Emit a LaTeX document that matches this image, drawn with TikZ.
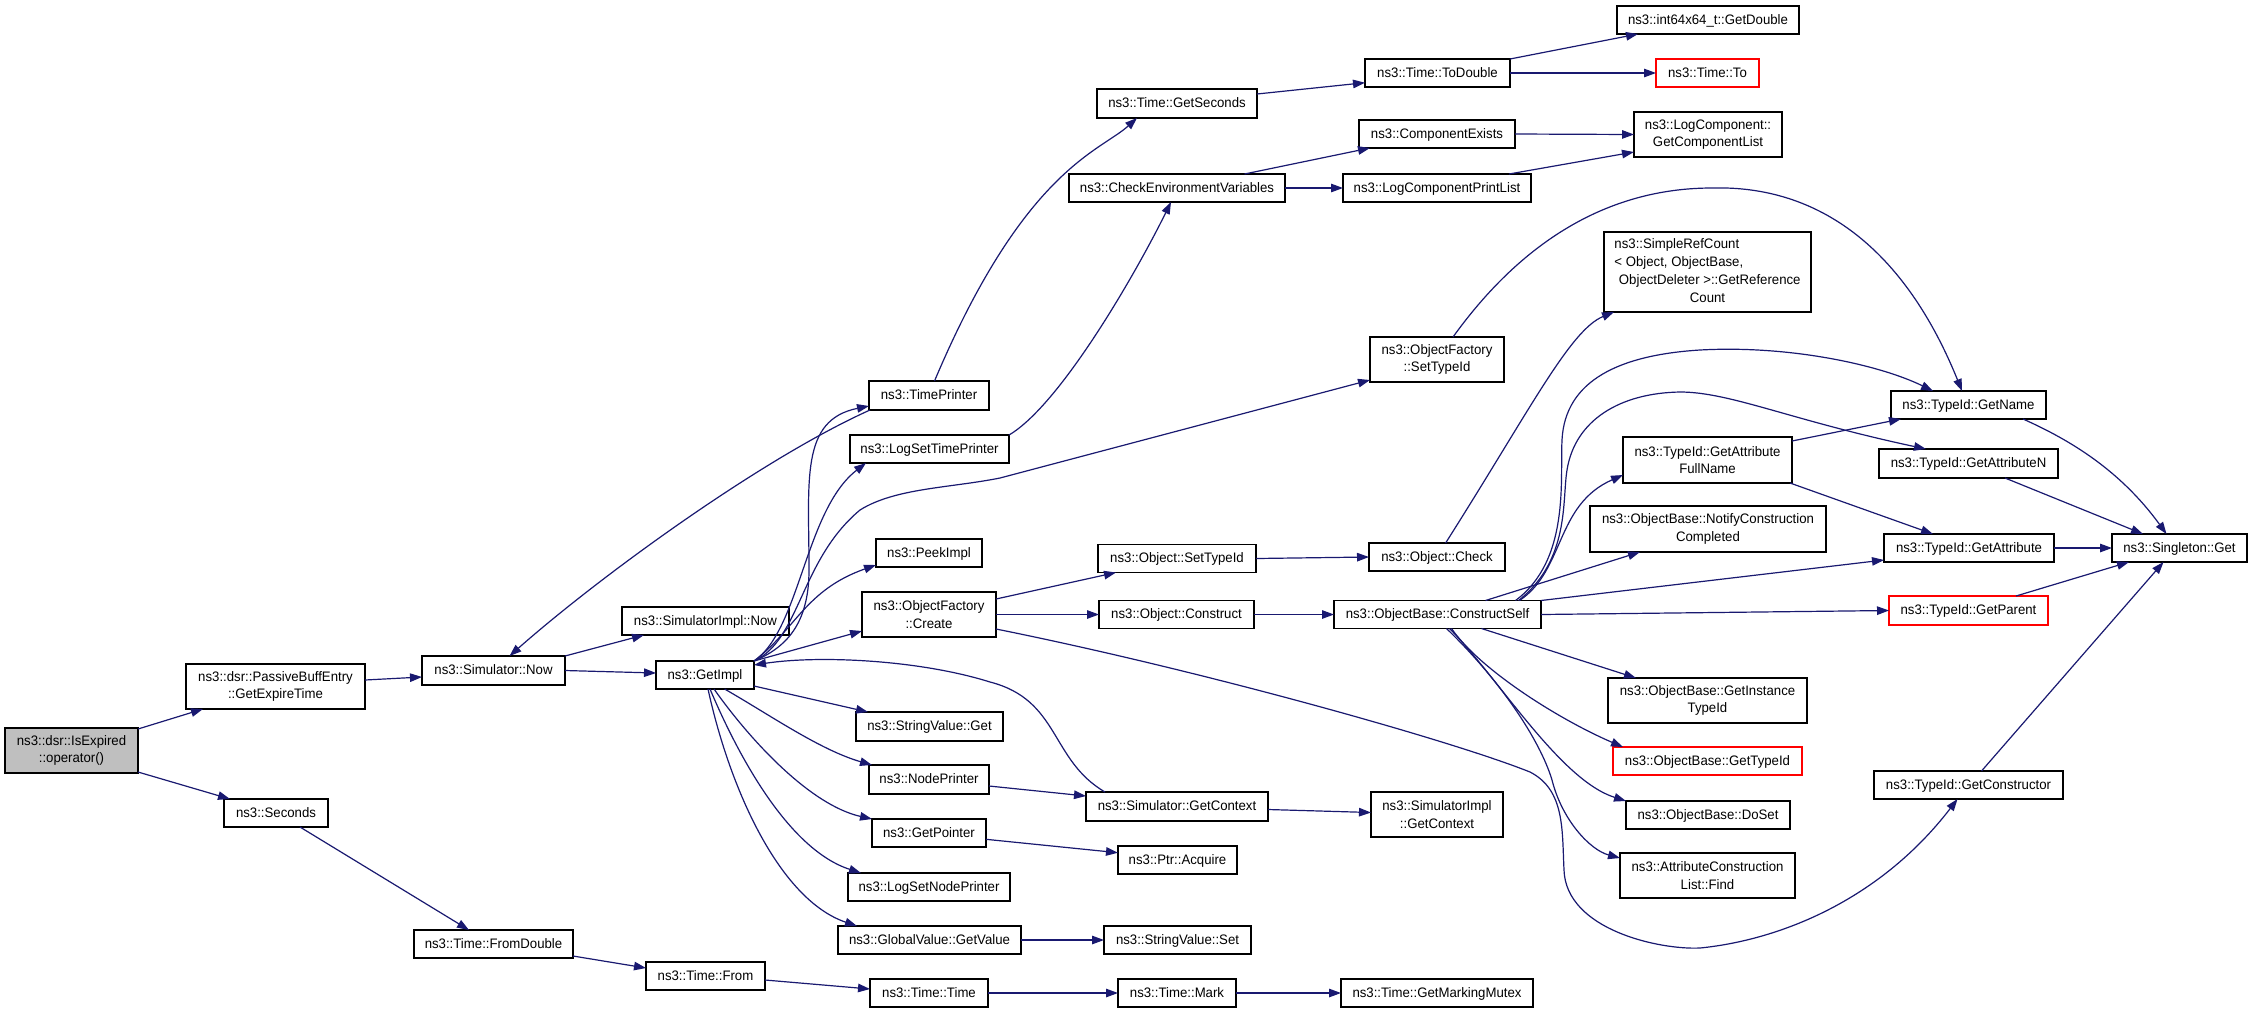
\documentclass[tikz,border=0pt]{standalone}
\usepackage{fontspec}
\setmainfont{Liberation Sans}[FakeStretch=0.96]
\usetikzlibrary{arrows.meta,calc}
\definecolor{edgec}{RGB}{25,25,112}
\definecolor{rootgray}{RGB}{191,191,191}
\newcommand\nfont{\fontsize{13.75}{17.7}\selectfont}
\begin{document}
\begin{tikzpicture}[x=1pt,y=-1pt,
  nb/.style={draw=black,line width=1.3pt,fill=white,inner sep=0pt,outer sep=0pt,font=\nfont,text height=10.8pt,text depth=2.4pt},
  nb2/.style={draw=black,line width=1.3pt,fill=white,inner sep=0pt,outer sep=0pt,font=\nfont,align=center},
  redb/.style={draw=red},
  rootb/.style={fill=rootgray},
  e/.style={draw=edgec,line width=1.2pt,-{Triangle[length=12pt,width=8.5pt]}}]
\useasboundingbox[fill=white] (0,0) rectangle (2253,1013);
% nodes
\node[nb2,rootb,minimum width=133pt,minimum height=45pt] (root) at (71.5,750.5) {ns3::dsr::IsExpired\\::operator()};
\node[nb2,minimum width=179pt,minimum height=45pt] (pbe) at (275.5,686.5) {ns3::dsr::PassiveBuffEntry\\::GetExpireTime};
\node[nb,minimum width=104pt,minimum height=28pt] (seconds) at (276,813) {ns3::Seconds};
\node[nb,minimum width=159pt,minimum height=28pt] (fromdouble) at (493.5,944) {ns3::Time::FromDouble};
\node[nb,minimum width=143pt,minimum height=29pt] (simnow) at (493.5,670.5) {ns3::Simulator::Now};
\node[nb,minimum width=98pt,minimum height=28pt] (getimpl) at (705,675) {ns3::GetImpl};
\node[nb,minimum width=167pt,minimum height=28pt] (simimplnow) at (705.5,621) {ns3::SimulatorImpl::Now};
\node[nb,minimum width=120pt,minimum height=29pt] (timeprinter) at (929,395.5) {ns3::TimePrinter};
\node[nb,minimum width=159pt,minimum height=28pt] (logsettp) at (929.5,449) {ns3::LogSetTimePrinter};
\node[nb,minimum width=106pt,minimum height=28pt] (peekimpl) at (929,553) {ns3::PeekImpl};
\node[nb2,minimum width=134pt,minimum height=45pt] (ofcreate) at (929,614.5) {ns3::ObjectFactory\\::Create};
\node[nb,minimum width=147pt,minimum height=29pt] (svget) at (929.5,726.5) {ns3::StringValue::Get};
\node[nb,minimum width=120pt,minimum height=29pt] (nodeprinter) at (929,779.5) {ns3::NodePrinter};
\node[nb,minimum width=114pt,minimum height=28pt] (getpointer) at (929,833) {ns3::GetPointer};
\node[nb,minimum width=162pt,minimum height=28pt] (logsetnp) at (929,887) {ns3::LogSetNodePrinter};
\node[nb,minimum width=183pt,minimum height=28pt] (gvgetvalue) at (929.5,940) {ns3::GlobalValue::GetValue};
\node[nb,minimum width=119pt,minimum height=28pt] (timefrom) at (705.5,976) {ns3::Time::From};
\node[nb,minimum width=118pt,minimum height=28pt] (timetime) at (929,993) {ns3::Time::Time};
\node[nb,minimum width=182pt,minimum height=29pt] (simgetctx) at (1177,806.5) {ns3::Simulator::GetContext};
\node[nb,minimum width=119pt,minimum height=28pt] (ptracquire) at (1177.5,860) {ns3::Ptr::Acquire};
\node[nb,minimum width=147pt,minimum height=28pt] (svset) at (1177.5,940) {ns3::StringValue::Set};
\node[nb,minimum width=118pt,minimum height=28pt] (timemark) at (1177,993) {ns3::Time::Mark};
\node[nb,minimum width=192pt,minimum height=28pt] (mutex) at (1437,993) {ns3::Time::GetMarkingMutex};
\node[nb2,minimum width=132pt,minimum height=45pt] (simimplgetctx) at (1437,814.5) {ns3::SimulatorImpl\\::GetContext};
\node[nb,minimum width=158pt,minimum height=28pt] (objsettypeid) at (1177,558.5) {ns3::Object::SetTypeId};
\node[nb,minimum width=155pt,minimum height=28pt] (objconstruct) at (1176.5,614.5) {ns3::Object::Construct};
\node[nb,minimum width=136pt,minimum height=28pt] (objcheck) at (1437,557) {ns3::Object::Check};
\node[nb,minimum width=207pt,minimum height=28pt] (constructself) at (1437.5,614.5) {ns3::ObjectBase::ConstructSelf};
\node[nb2,minimum width=134pt,minimum height=45pt] (ofsettypeid) at (1437,359.5) {ns3::ObjectFactory\\::SetTypeId};
\node[nb,minimum width=160pt,minimum height=29pt] (getseconds) at (1177,103.5) {ns3::Time::GetSeconds};
\node[nb,minimum width=216pt,minimum height=28pt] (checkenv) at (1177,188) {ns3::CheckEnvironmentVariables};
\node[nb,minimum width=145pt,minimum height=28pt] (todouble) at (1437.5,73) {ns3::Time::ToDouble};
\node[nb,minimum width=156pt,minimum height=28pt] (compexists) at (1437,134) {ns3::ComponentExists};
\node[nb,minimum width=188pt,minimum height=28pt] (logcompprint) at (1437,188) {ns3::LogComponentPrintList};
\node[nb,minimum width=182pt,minimum height=28pt] (getdouble) at (1708,20) {ns3::int64x64\_t::GetDouble};
\node[nb,redb,minimum width=103pt,minimum height=28pt] (timeto) at (1707.5,73) {ns3::Time::To};
\node[nb2,minimum width=148pt,minimum height=45pt] (getcomplist) at (1708,134.5) {ns3::LogComponent::\\GetComponentList};
\node[nb2,minimum width=207pt,minimum height=80pt] (simplerefcount) at (1707.5,272) {\begin{tabular}{@{}l@{}}ns3::SimpleRefCount\\< Object, ObjectBase,\\\hspace*{4.5pt}ObjectDeleter >::GetReference\\\multicolumn{1}{@{}c@{}}{Count}\end{tabular}};
\node[nb,minimum width=155pt,minimum height=28pt] (getname) at (1968.5,405) {ns3::TypeId::GetName};
\node[nb2,minimum width=169pt,minimum height=46pt] (getattrfullname) at (1707.5,460) {ns3::TypeId::GetAttribute\\FullName};
\node[nb,minimum width=179pt,minimum height=29pt] (getattrn) at (1968.5,463.5) {ns3::TypeId::GetAttributeN};
\node[nb2,minimum width=236pt,minimum height=46pt] (notify) at (1708,529) {ns3::ObjectBase::NotifyConstruction\\Completed};
\node[nb,minimum width=170pt,minimum height=28pt] (getattr) at (1969,548) {ns3::TypeId::GetAttribute};
\node[nb,minimum width=135pt,minimum height=28pt] (singleton) at (2179.5,548) {ns3::Singleton::Get};
\node[nb,redb,minimum width=159pt,minimum height=29pt] (getparent) at (1968.5,610.5) {ns3::TypeId::GetParent};
\node[nb2,minimum width=199pt,minimum height=45pt] (getinstance) at (1707.5,700.5) {ns3::ObjectBase::GetInstance\\TypeId};
\node[nb,redb,minimum width=189pt,minimum height=28pt] (obgettypeid) at (1707.5,761) {ns3::ObjectBase::GetTypeId};
\node[nb,minimum width=164pt,minimum height=28pt] (doset) at (1708,815) {ns3::ObjectBase::DoSet};
\node[nb2,minimum width=175pt,minimum height=45pt] (acfind) at (1707.5,875.5) {ns3::AttributeConstruction\\List::Find};
\node[nb,minimum width=189pt,minimum height=28pt] (getconstructor) at (1968.5,785) {ns3::TypeId::GetConstructor};
% edges
\draw[e] ($(root.north east)+(0,1)$) -- ($(pbe.south west)+(17,0)$);
\draw[e] ($(root.south east)+(0,-1)$) -- ($(seconds.north west)+(6,0)$);
\draw[e] ($(pbe.east)+(0,-6.5)$) -- ($(simnow.west)+(0,6.5)$);
\draw[e] ($(seconds.south)+(24,0)$) -- ($(fromdouble.north west)+(55,0)$);
\draw[e] ($(fromdouble.south east)+(0,-2)$) -- ($(timefrom.west)+(0,-8)$);
\draw[e] ($(timefrom.east)+(0,4)$) -- ($(timetime.west)+(0,-4)$);
\draw[e] (timetime.east) -- (timemark.west);
\draw[e] (timemark.east) -- (mutex.west);
\draw[e] (simnow.north east) -- ($(simimplnow.south west)+(22,0)$);
\draw[e] (simnow.east) -- ($(getimpl.west)+(0,-2)$);
\draw[e] ($(timeprinter.south west)+(1,0)$) .. controls (761,459) and (599,577) .. ($(simnow.north)+(16,0)$);
\draw[e] ($(timeprinter.north)+(5.5,0)$) .. controls (1024,169) and (1100,151.5) .. ($(getseconds.south west)+(40,0)$);
\draw[e] (logsettp.north east) .. controls (1060,405) and (1135,275) .. ($(checkenv.south)+(-6,0)$);
\draw[e] ($(getseconds.north east)+(0,5)$) -- ($(todouble.west)+(0,9.7)$);
\draw[e] (todouble.north east) -- ($(getdouble.south west)+(21,0)$);
\draw[e] (todouble.east) -- (timeto.west);
\draw[e] ($(checkenv.north)+(67.5,0)$) -- ($(compexists.south west)+(11,0)$);
\draw[e] (checkenv.east) -- (logcompprint.west);
\draw[e] (compexists.east) -- (getcomplist.west);
\draw[e] ($(logcompprint.north east)+(-22,0)$) -- ($(getcomplist.south west)+(0,-5)$);
\draw[e] (getimpl.north east) .. controls (785,648) and (809,625) .. (809,570) .. controls (809,480) and (800,420) .. ($(timeprinter.west)+(0,10.5)$);
\draw[e] (getimpl.north east) .. controls (800,630) and (805,510) .. ($(logsettp.south west)+(16,0)$);
\draw[e] (getimpl.north east) .. controls (800,640) and (800,560) .. (860,510) .. controls (895,488) and (950,488) .. (1000,478) -- ($(ofsettypeid.south west)+(0,-2)$);
\draw[e] (getimpl.north east) .. controls (795,630) and (805,590) .. ($(peekimpl.south west)+(0,-2)$);
\draw[e] (getimpl.north east) -- ($(ofcreate.south west)+(0,-6)$);
\draw[e] ($(getimpl.south east)+(0,-3)$) -- ($(svget.north west)+(12,0)$);
\draw[e] ($(getimpl.south)+(19.6,0)$) .. controls (770,715) and (820,750) .. ($(nodeprinter.north west)+(3,0)$);
\draw[e] ($(getimpl.south)+(9,0)$) .. controls (750,740) and (810,805) .. (getpointer.north west);
\draw[e] ($(getimpl.south)+(5,0)$) .. controls (740,760) and (790,850) .. ($(logsetnp.north west)+(13,0)$);
\draw[e] ($(getimpl.south)+(3,0)$) .. controls (730,790) and (780,900) .. ($(gvgetvalue.north west)+(19,0)$);
\draw[e] ($(simgetctx.north west)+(19,0)$) .. controls (1050,760) and (1060,700) .. (990,682) .. controls (920,660) and (820,655) .. ($(getimpl.east)+(0,-10)$);
\draw[e] ($(nodeprinter.east)+(0,6.5)$) -- ($(simgetctx.west)+(0,-10.5)$);
\draw[e] ($(getpointer.east)+(0,6.3)$) -- ($(ptracquire.west)+(0,-7.3)$);
\draw[e] (gvgetvalue.east) -- (svset.west);
\draw[e] ($(simgetctx.east)+(0,3)$) -- ($(simimplgetctx.west)+(0,-2)$);
\draw[e] ($(ofcreate.north east)+(0,7)$) -- ($(objsettypeid.south west)+(18,0)$);
\draw[e] (ofcreate.east) -- (objconstruct.west);
\draw[e] ($(ofcreate.east)+(0,14.5)$) .. controls (1200,670) and (1450,740) .. (1530,772) .. controls (1565,790) and (1562,830) .. (1564,870) .. controls (1566,930) and (1660,950) .. (1700,948) .. controls (1780,940) and (1880,900) .. ($(getconstructor.south)+(-11,0)$);
\draw[e] (objsettypeid.east) -- (objcheck.west);
\draw[e] (objconstruct.east) -- (constructself.west);
\draw[e] ($(objcheck.north)+(8.6,0)$) .. controls (1530,410) and (1570,330) .. ($(simplerefcount.south west)+(10,0)$);
\draw[e] ($(ofsettypeid.north)+(16,0)$) .. controls (1530,230) and (1620,188) .. (1712,188) .. controls (1820,185) and (1905,250) .. ($(getname.north)+(-6.5,0)$);
\draw[e] ($(constructself.north)+(78,0)$) .. controls (1570,560) and (1560,480) .. (1562,440) .. controls (1565,380) and (1620,355) .. (1700,350) .. controls (1790,345) and (1880,365) .. ($(getname.north west)+(42,0)$);
\draw[e] ($(constructself.north)+(81,0)$) .. controls (1570,560) and (1562,500) .. (1567,470) .. controls (1575,420) and (1620,393) .. (1680,392) .. controls (1730,392) and (1790,420) .. ($(getattrn.north west)+(47,0)$);
\draw[e] ($(constructself.north)+(82,0)$) .. controls (1565,570) and (1555,505) .. ($(getattrfullname.south west)+(0,-8)$);
\draw[e] ($(constructself.north)+(48,0)$) -- ($(notify.south west)+(50,0)$);
\draw[e] (constructself.north east) -- ($(getattr.south west)+(0,-2)$);
\draw[e] (constructself.east) -- (getparent.west);
\draw[e] ($(constructself.south)+(44,0)$) -- ($(getinstance.north west)+(28,0)$);
\draw[e] ($(constructself.south)+(14,0)$) .. controls (1480,670) and (1560,720) .. ($(obgettypeid.north west)+(10,0)$);
\draw[e] ($(constructself.south)+(12,0)$) .. controls (1500,680) and (1560,780) .. (doset.north west);
\draw[e] ($(constructself.south)+(9,0)$) .. controls (1500,680) and (1540,740) .. (1552,780) .. controls (1562,820) and (1590,850) .. ($(acfind.north west)+(0,5)$);
\draw[e] ($(getattrfullname.north east)+(0,4)$) -- ($(getname.south west)+(10,0)$);
\draw[e] ($(getattrfullname.south east)+(-2,0)$) -- ($(getattr.north west)+(49,0)$);
\draw[e] ($(getname.south east)+(-23,0)$) .. controls (2070,440) and (2120,470) .. ($(singleton.north)+(-13,0)$);
\draw[e] ($(getattrn.south east)+(-53,0)$) -- ($(singleton.north west)+(31,0)$);
\draw[e] (getattr.east) -- (singleton.west);
\draw[e] ($(getparent.north east)+(-32,0)$) -- ($(singleton.south west)+(17,0)$);
\draw[e] ($(getconstructor.north)+(13,0)$) -- ($(singleton.south)+(-16,0)$);
\end{tikzpicture}
\end{document}
